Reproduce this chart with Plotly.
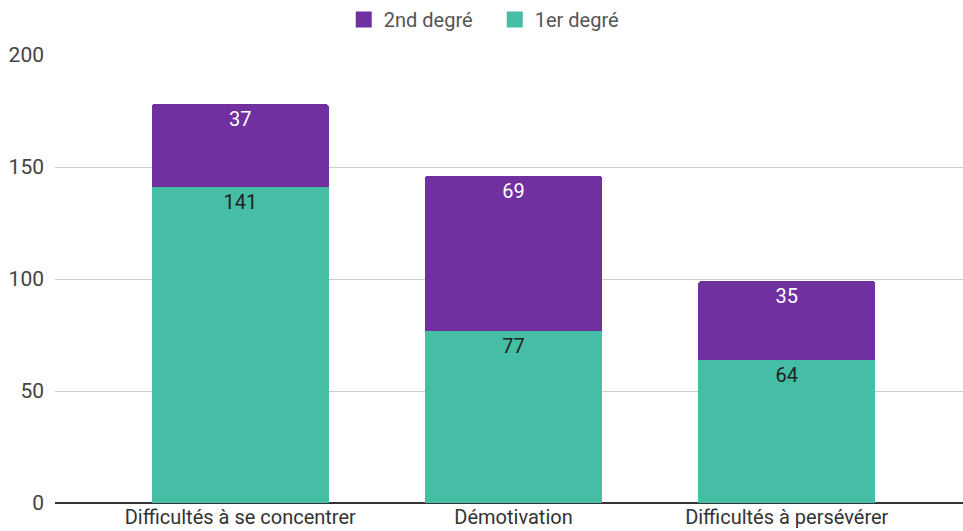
import plotly.graph_objects as go

categories = ["Difficultés à se concentrer", "Démotivation", "Difficultés à persévérer"]
premier_degre = [141, 77, 64]
second_degre = [37, 69, 35]
y_ticks = [0, 50, 100, 150, 200]

teal = "#46BDA5"
purple = "#7030A0"
font = "Roboto, Arial, sans-serif"

fig = go.Figure()
fig.add_trace(go.Bar(
    x=categories, y=premier_degre, name="1er degré", showlegend=False,
    marker=dict(color=teal, line=dict(width=0)),
    text=premier_degre, textposition="inside", insidetextanchor="end",
    textfont=dict(color="#222222", size=20, family=font),
    constraintext="none", width=0.648, hoverinfo="skip",
))
fig.add_trace(go.Bar(
    x=categories, y=second_degre, name="2nd degré", showlegend=False,
    marker=dict(color=purple, line=dict(width=0)),
    text=second_degre, textposition="inside", insidetextanchor="end",
    textfont=dict(color="#ffffff", size=20, family=font),
    constraintext="none", width=0.648, hoverinfo="skip",
))
# legend-only entries (larger square swatches)
for name, col in [("2nd degré", purple), ("1er degré", teal)]:
    fig.add_trace(go.Scatter(
        x=[None], y=[None], mode="markers", name=name,
        marker=dict(symbol="square", size=18, color=col),
    ))

fig.update_layout(
    barmode="stack",
    barcornerradius=3,
    width=963, height=531,
    margin=dict(l=55, r=0, t=55, b=28),
    plot_bgcolor="white", paper_bgcolor="white",
    font=dict(family=font, size=20, color="#444444"),
    showlegend=True,
    legend=dict(orientation="h", x=0.318, xanchor="left", y=1.0, yanchor="top",
                yref="container", traceorder="normal", entrywidth=106,
                font=dict(size=20, color="#555555")),
    xaxis=dict(range=[-0.678, 2.645], showgrid=False, showline=False, ticks="",
               automargin=False, tickfont=dict(size=20, color="#333333")),
    yaxis=dict(range=[0, 200], tickvals=y_ticks, showgrid=True, gridcolor="#CCCCCC",
               gridwidth=1, zeroline=True, zerolinecolor="#333333", zerolinewidth=1.5,
               ticks="", ticklabelstandoff=10, automargin=False,
               tickfont=dict(size=21, color="#444444")),
)

fig.write_html("out.html", config={"displayModeBar": False},
               post_script="document.body.style.margin='0';")
